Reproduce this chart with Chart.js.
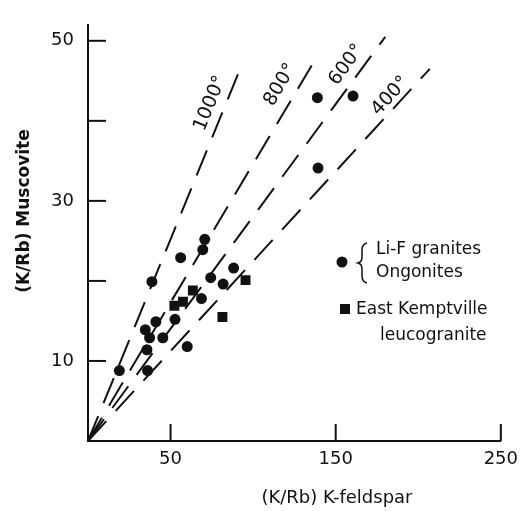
<!DOCTYPE html>
<html>
<head>
<meta charset="utf-8">
<script src="https://cdn.jsdelivr.net/npm/chart.js@4"></script>
<style>
  html, body { margin: 0; padding: 0; background: #fff; }
  #wrap { width: 526px; height: 511px; }
</style>
</head>
<body>
<div id="wrap"><canvas id="chart"></canvas></div>
<script>
// Li-F granites / Ongonites (circles)
const circleX = [70.7, 69.5, 56.1, 38.7, 88.2, 74.3, 81.8, 68.7, 52.7, 41.1, 34.7, 37.3, 45.3, 35.7, 60.1, 19.0, 36.1, 138.9, 160.5, 139.3]
const circleY = [25.2, 23.9, 22.9, 19.9, 21.6, 20.4, 19.6, 17.8, 15.2, 14.9, 13.9, 12.9, 12.9, 11.4, 11.8, 8.8, 8.8, 42.9, 43.1, 34.1]

// East Kemptville leucogranite (squares)
const squareX = [95.4, 63.5, 57.5, 52.3, 81.4]
const squareY = [20.1, 18.8, 17.4, 16.9, 15.5]

// isotherms, dashed from the origin
const isoLabels = ['1000°', '800°', '600°', '400°']
const isoEndX = [91, 139.5, 180, 207]
const isoEndY = [45.9, 48.3, 50.5, 46.5]
const isoLabelX = [74.1, 116.5, 156.6, 183.1]
const isoLabelY = [42.2, 44.5, 47.0, 43.1]

const xTicks = [50, 150, 250]
const yTicks = [10, 20, 30, 40, 50]
const yTickLabels = [10, 30, 50]

const ink = '#111'
const font = 'DejaVu Sans'

const pts = (xs, ys) => xs.map((x, i) => ({ x, y: ys[i] }))

const isoSets = isoLabels.map((label, i) => ({
  type: 'line',
  label,
  data: [{ x: 0, y: 0 }, { x: isoEndX[i], y: isoEndY[i] }],
  borderColor: ink,
  borderWidth: 2,
  borderDash: [27, 14],
  pointRadius: 0,
  fill: false
}))

const extras = {
  id: 'extras',
  afterDatasetsDraw (chart) {
    const { ctx, chartArea, scales: { x, y } } = chart
    ctx.save()
    ctx.strokeStyle = ink
    ctx.fillStyle = ink
    ctx.lineWidth = 2

    // inward tick marks
    yTicks.forEach((v) => {
      const py = y.getPixelForValue(v)
      ctx.beginPath()
      ctx.moveTo(chartArea.left, py)
      ctx.lineTo(chartArea.left + 18, py)
      ctx.stroke()
    })
    xTicks.forEach((v) => {
      const px = x.getPixelForValue(v)
      ctx.beginPath()
      ctx.moveTo(px, chartArea.bottom)
      ctx.lineTo(px, chartArea.bottom - 17)
      ctx.stroke()
    })

    // isotherm labels, turned along their lines
    ctx.font = '19px "' + font + '"'
    ctx.textAlign = 'center'
    ctx.textBaseline = 'middle'
    isoLabels.forEach((label, i) => {
      const dx = x.getPixelForValue(isoEndX[i]) - x.getPixelForValue(0)
      const dy = y.getPixelForValue(0) - y.getPixelForValue(isoEndY[i])
      const ang = Math.atan2(dy, dx)
      ctx.save()
      ctx.translate(x.getPixelForValue(isoLabelX[i]), y.getPixelForValue(isoLabelY[i]))
      ctx.rotate(-ang)
      ctx.fillText(label, 0, 0)
      ctx.restore()
    })

    // axis titles (off-centre in the original)
    ctx.font = '18px "' + font + '"'
    ctx.fillText('(K/Rb) K-feldspar', 337, 498)
    ctx.save()
    ctx.translate(25, 211)
    ctx.rotate(-Math.PI / 2)
    ctx.font = 'bold 17px "' + font + '"'
    ctx.fillText('(K/Rb) Muscovite', 0, 0)
    ctx.restore()

    // legend
    ctx.beginPath()
    ctx.arc(342, 262, 5.5, 0, Math.PI * 2)
    ctx.fill()
    ctx.fillRect(340, 304, 10, 10)

    ctx.lineWidth = 1.5
    ctx.beginPath()
    ctx.moveTo(367, 243)
    ctx.quadraticCurveTo(362, 244, 362, 250)
    ctx.lineTo(362, 257)
    ctx.quadraticCurveTo(362, 262, 358, 263)
    ctx.quadraticCurveTo(362, 264, 362, 269)
    ctx.lineTo(362, 276)
    ctx.quadraticCurveTo(362, 282, 367, 283)
    ctx.stroke()

    ctx.font = '17px "' + font + '"'
    ctx.textAlign = 'left'
    ctx.fillText('Li-F granites', 376, 250)
    ctx.fillText('Ongonites', 376, 273)
    ctx.fillText('East Kemptville', 356, 310)
    ctx.fillText('leucogranite', 380, 336)
    ctx.restore()
  }
}

new Chart(document.getElementById('chart'), {
  type: 'scatter',
  data: {
    datasets: [
      {
        label: 'Li-F granites / Ongonites',
        data: pts(circleX, circleY),
        pointStyle: 'circle',
        pointRadius: 5.5,
        backgroundColor: ink,
        borderWidth: 0
      },
      {
        label: 'East Kemptville leucogranite',
        data: pts(squareX, squareY),
        pointStyle: 'rect',
        pointRadius: 7,
        backgroundColor: ink,
        borderWidth: 0
      },
      ...isoSets
    ]
  },
  options: {
    responsive: true,
    maintainAspectRatio: false,
    animation: false,
    layout: { padding: { top: 12, right: 23, left: 0, bottom: 0 } },
    plugins: {
      legend: { display: false },
      tooltip: { enabled: false }
    },
    scales: {
      x: {
        type: 'linear',
        min: 0,
        max: 250,
        afterBuildTicks: (s) => { s.ticks = xTicks.map((v) => ({ value: v })) },
        afterFit: (s) => { s.height = 70 },
        grid: { drawOnChartArea: false, drawTicks: false },
        border: { color: ink, width: 2 },
        ticks: { color: ink, font: { family: font, size: 18 }, padding: 8, maxRotation: 0 },
        title: { display: false }
      },
      y: {
        type: 'linear',
        min: 0,
        max: 52,
        afterBuildTicks: (s) => { s.ticks = yTicks.map((v) => ({ value: v })) },
        afterFit: (s) => { s.width = 88 },
        grid: { drawOnChartArea: false, drawTicks: false },
        border: { color: ink, width: 2 },
        ticks: {
          color: ink,
          font: { family: font, size: 18 },
          padding: 14,
          callback: (v) => (yTickLabels.includes(v) ? String(v) : '')
        },
        title: { display: false }
      }
    }
  },
  plugins: [extras]
})
</script>
</body>
</html>
